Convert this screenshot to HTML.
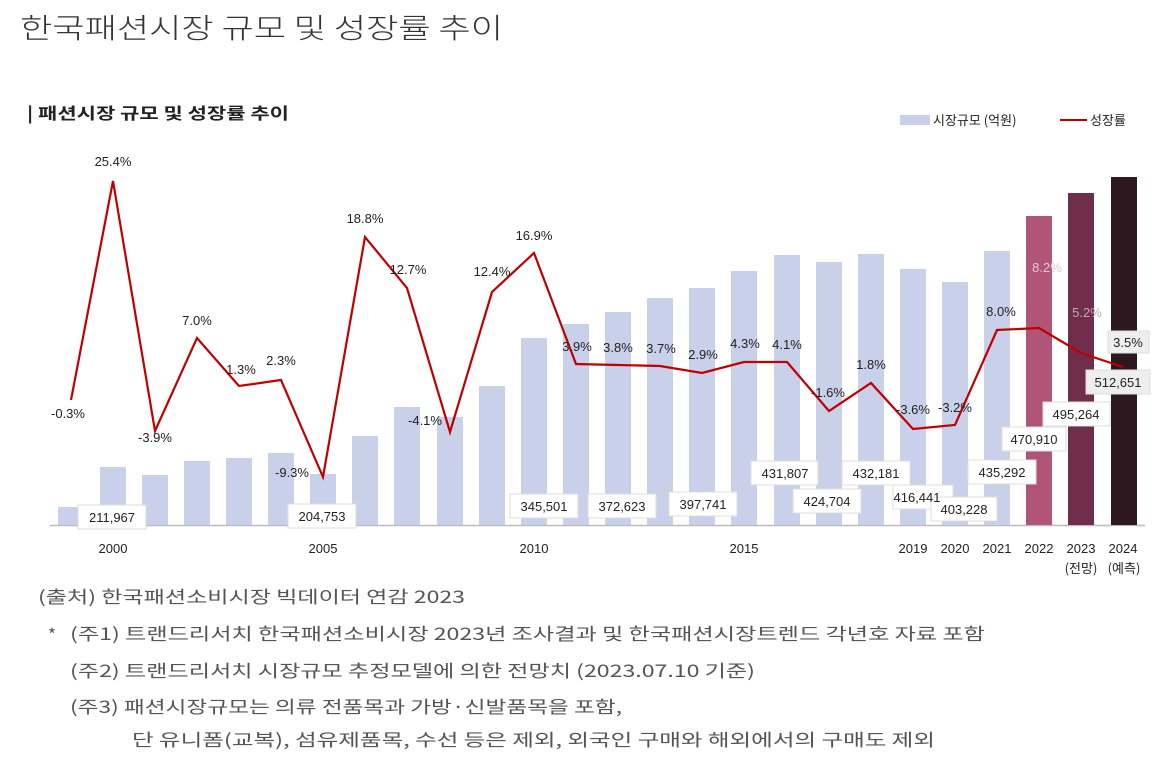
<!DOCTYPE html>
<html><head><meta charset="utf-8"><style>
html,body{margin:0;padding:0;background:#fff;}
svg{display:block;}
</style></head><body>
<svg width="1167" height="759" viewBox="0 0 1167 759" xmlns="http://www.w3.org/2000/svg" font-family="Liberation Sans, Noto Sans CJK KR, sans-serif">
<text x="20" y="38" font-size="28" fill="#333" textLength="483" lengthAdjust="spacingAndGlyphs" font-family="Noto Sans CJK KR, sans-serif" font-weight="300">한국패션시장 규모 및 성장률 추이</text>
<text x="27" y="119" font-size="16" fill="#222" font-weight="bold" font-family="Noto Sans CJK KR, sans-serif" textLength="262" lengthAdjust="spacingAndGlyphs">| 패션시장 규모 및 성장률 추이</text>
<rect x="900" y="115" width="30" height="10" fill="#c9d0ea"/>
<text x="933" y="125" font-size="13" fill="#222" font-family="Noto Sans CJK KR, sans-serif">시장규모 (억원)</text>
<line x1="1060" y1="120" x2="1087" y2="120" stroke="#c00000" stroke-width="2"/>
<text x="1090" y="125" font-size="13" fill="#222" font-family="Noto Sans CJK KR, sans-serif">성장률</text>
<line x1="50" y1="525.5" x2="1145" y2="525.5" stroke="#bbb" stroke-width="1.5"/>
<g fill="#c9d0ea">
<rect x="58" y="507" width="22" height="18"/>
<rect x="100" y="467" width="26" height="58"/>
<rect x="142" y="475" width="26" height="50"/>
<rect x="184" y="461" width="26" height="64"/>
<rect x="226" y="458" width="26" height="67"/>
<rect x="268" y="453" width="26" height="72"/>
<rect x="310" y="474" width="26" height="51"/>
<rect x="352" y="436" width="26" height="89"/>
<rect x="394" y="407" width="26" height="118"/>
<rect x="437" y="417" width="26" height="108"/>
<rect x="479" y="386" width="26" height="139"/>
<rect x="521" y="338" width="26" height="187"/>
<rect x="563" y="324" width="26" height="201"/>
<rect x="605" y="312" width="26" height="213"/>
<rect x="647" y="298" width="26" height="227"/>
<rect x="689" y="288" width="26" height="237"/>
<rect x="731" y="271" width="26" height="254"/>
<rect x="774" y="255" width="26" height="270"/>
<rect x="816" y="262" width="26" height="263"/>
<rect x="858" y="254" width="26" height="271"/>
<rect x="900" y="269" width="26" height="256"/>
<rect x="942" y="282" width="26" height="243"/>
<rect x="984" y="251" width="26" height="274"/>
</g>
<rect x="1026" y="216" width="26" height="309" fill="#b05478"/>
<rect x="1068" y="193" width="26" height="332" fill="#6e2e4c"/>
<rect x="1111" y="177" width="26" height="348" fill="#2e1820"/>
<g font-size="13" fill="#222" text-anchor="middle">
<text x="113" y="553">2000</text><text x="323" y="553">2005</text><text x="534" y="553">2010</text><text x="744" y="553">2015</text>
<text x="913" y="553">2019</text><text x="955" y="553">2020</text><text x="997" y="553">2021</text><text x="1039" y="553">2022</text><text x="1081" y="553">2023</text><text x="1123" y="553">2024</text>
<text x="1081" y="573" font-family="Noto Sans CJK KR, sans-serif">(전망)</text><text x="1124" y="573" font-family="Noto Sans CJK KR, sans-serif">(예측)</text>
</g>
<polyline fill="none" stroke="#c00000" stroke-width="2.2" stroke-linejoin="miter" points="71,400 113,181 155,431 197,338 239,386 281,380 323,477 365,237 407,288 450,432 492,292 534,253 576,364 618,365 660,366 702,373 744,362 787,362 829,411 871,383 913,429 955,425 997,330 1039,328 1081,353 1123,367"/>
<g font-size="13" fill="#222" text-anchor="middle">
<text x="68" y="418">-0.3%</text><text x="113" y="166">25.4%</text><text x="155" y="442">-3.9%</text>
<text x="197" y="325">7.0%</text><text x="241" y="374">1.3%</text><text x="281" y="365">2.3%</text>
<text x="292" y="477">-9.3%</text><text x="365" y="223">18.8%</text><text x="408" y="274">12.7%</text>
<text x="425" y="425">-4.1%</text><text x="492" y="276">12.4%</text><text x="534" y="240">16.9%</text>
<text x="577" y="351">3.9%</text><text x="618" y="352">3.8%</text><text x="661" y="353">3.7%</text>
<text x="703" y="359">2.9%</text><text x="745" y="348">4.3%</text><text x="787" y="349">4.1%</text>
<text x="828" y="397">-1.6%</text><text x="871" y="369">1.8%</text><text x="913" y="414">-3.6%</text>
<text x="955" y="412">-3.2%</text><text x="1001" y="316">8.0%</text>
<text x="1047" y="272" fill="#e8c3d2">8.2%</text><text x="1087" y="317" fill="#c9a3b8">5.2%</text>
</g>
<g font-size="13" fill="#222" text-anchor="middle">
<g fill="#fff" stroke="#ddd" stroke-width="1">
<rect x="78" y="505" width="68" height="24"/>
<rect x="288" y="504" width="68" height="24"/>
<rect x="510" y="494" width="68" height="24"/>
<rect x="588" y="494" width="68" height="24"/>
<rect x="669" y="492" width="68" height="24"/>
<rect x="751" y="461" width="67" height="24"/>
<rect x="793" y="489" width="68" height="24"/>
<rect x="842" y="461" width="68" height="24"/>
<rect x="893" y="485" width="60" height="24"/>
<rect x="931" y="497" width="66" height="24"/>
<rect x="968" y="460" width="68" height="24"/>
<rect x="1002" y="427" width="64" height="24"/>
<rect x="1043" y="402" width="67" height="24"/>
<rect x="1086" y="370" width="64" height="24" fill="#eee"/>
<rect x="1108" y="331" width="41" height="22" fill="#eee"/>
</g>
<text x="112" y="522">211,967</text><text x="322" y="521">204,753</text><text x="544" y="511">345,501</text>
<text x="622" y="511">372,623</text><text x="703" y="509">397,741</text><text x="785" y="478">431,807</text>
<text x="827" y="506">424,704</text><text x="876" y="478">432,181</text><text x="917" y="502">416,441</text>
<text x="964" y="514">403,228</text><text x="1002" y="477">435,292</text><text x="1034" y="444">470,910</text>
<text x="1076" y="419">495,264</text><text x="1118" y="387">512,651</text><text x="1128" y="347">3.5%</text>
</g>
<g font-size="17" fill="#555" font-family="Noto Sans CJK KR, sans-serif">
<text x="38" y="603" textLength="427" lengthAdjust="spacingAndGlyphs">(출처) 한국패션소비시장 빅데이터 연감 2023</text>
<text x="48" y="641">*</text>
<text x="70" y="640" textLength="915" lengthAdjust="spacingAndGlyphs">(주1) 트랜드리서치 한국패션소비시장 2023년 조사결과 및 한국패션시장트렌드 각년호 자료 포함</text>
<text x="70" y="677" textLength="685" lengthAdjust="spacingAndGlyphs">(주2) 트랜드리서치 시장규모 추정모델에 의한 전망치 (2023.07.10 기준)</text>
<text x="70" y="713" textLength="552" lengthAdjust="spacingAndGlyphs">(주3) 패션시장규모는 의류 전품목과 가방·신발품목을 포함,</text>
<text x="132" y="746" textLength="803" lengthAdjust="spacingAndGlyphs">단 유니폼(교복), 섬유제품목, 수선 등은 제외, 외국인 구매와 해외에서의 구매도 제외</text>
</g>
</svg>
</body></html>
